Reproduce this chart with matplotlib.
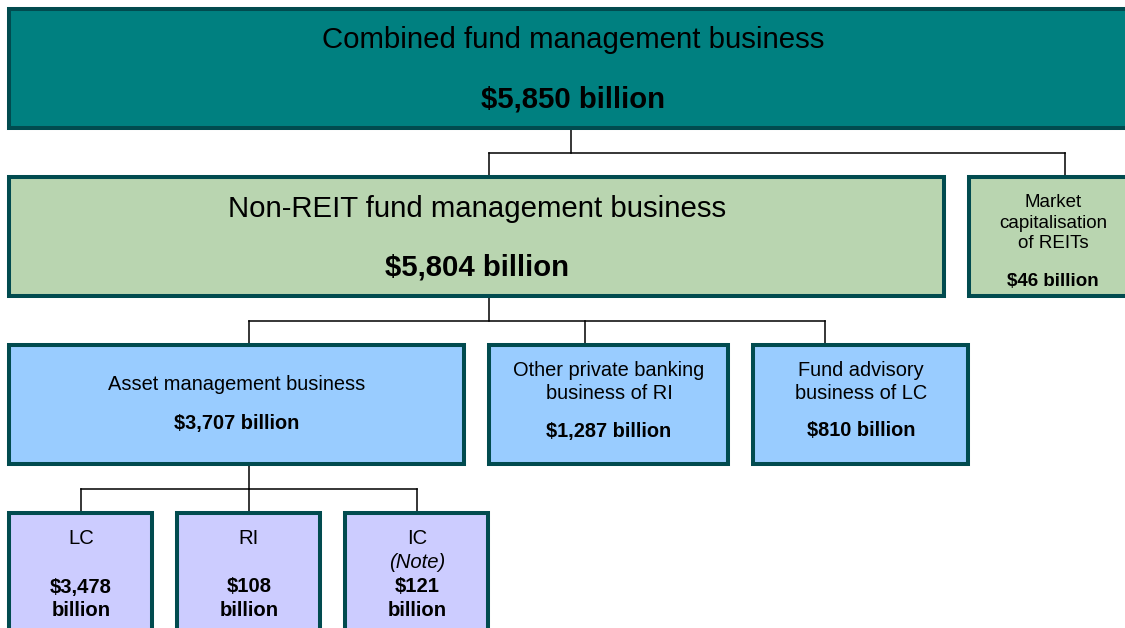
#!/usr/bin/env python3
"""Org-style breakdown of the fund management business."""

import matplotlib.pyplot as plt
from matplotlib.patches import Rectangle

plt.rcParams["font.family"] = ["Liberation Sans", "DejaVu Sans"]

# data
labels = [
    "Combined fund management business",
    "Non-REIT fund management business",
    "Market\ncapitalisation\nof REITs",
    "Asset management business",
    "Other private banking\nbusiness of RI",
    "Fund advisory\nbusiness of LC",
    "LC",
    "RI",
    "IC",
]
amounts = [5850, 5804, 46, 3707, 1287, 810, 3478, 108, 121]
notes = ["", "", "", "", "", "", "", "", "(Note)"]
# parent index of each box (-1 = root)
parents = [-1, 0, 0, 1, 1, 1, 3, 3, 3]

# layout in pixels: x0, y0, x1, y1 (centre of border line)
boxes = [
    (9, 9, 1140, 128),
    (9, 177, 944, 296),
    (969, 177, 1140, 296),
    (9, 345, 464, 464),
    (489, 345, 728, 464),
    (753, 345, 968, 464),
    (9, 513, 152, 640),
    (177, 513, 320, 640),
    (345, 513, 488, 640),
]
fills = ["#008080", "#B9D5B0", "#B9D5B0", "#99CCFF", "#99CCFF", "#99CCFF",
         "#CCCCFF", "#CCCCFF", "#CCCCFF"]
border = "#014B4F"

fig = plt.figure(figsize=(11.25, 6.28), dpi=100)
ax = fig.add_axes([0, 0, 1, 1])
ax.set_xlim(0, 1125)
ax.set_ylim(628, 0)
ax.axis("off")

# connectors: stem from parent, bar, drops to children
conn_x = {0: 571, 1: 489, 3: 249}
drop_x = {1: 489, 2: 1065, 3: 249, 4: 585, 5: 825, 6: 81, 7: 249, 8: 417}
for p in sorted(set(q for q in parents if q >= 0)):
    kids = [i for i, q in enumerate(parents) if q == p]
    y_bot = boxes[p][3] + 2
    y_top = boxes[kids[0]][1] - 2
    y_mid = (y_bot + y_top) / 2
    ax.plot([conn_x[p], conn_x[p]], [y_bot, y_mid], color="black", lw=1.1)
    xs = [drop_x[k] for k in kids]
    ax.plot([min(xs), max(xs)], [y_mid, y_mid], color="black", lw=1.1)
    for x in xs:
        ax.plot([x, x], [y_mid, y_top], color="black", lw=1.1)

for i, (x0, y0, x1, y1) in enumerate(boxes):
    ax.add_patch(Rectangle((x0, y0), x1 - x0, y1 - y0, facecolor=fills[i],
                           edgecolor=border, lw=2.9, zorder=2))

amt = [f"${a:,} billion" for a in amounts]
dy = 2  # va="center" sits slightly high

# big boxes
for i, cx, (ty, ay) in zip([0, 1], [573, 477], [(38, 97), (207, 265)]):
    ax.text(cx, ty + dy, labels[i], ha="center", va="center", fontsize=21.2,
            zorder=3)
    ax.text(cx, ay + dy, amt[i], ha="center", va="center", fontsize=21.2,
            fontweight="bold", zorder=3)

# REIT box
ax.text(1053, 221 + dy, labels[2], ha="center", va="center", fontsize=13.5,
        linespacing=1.3, zorder=3)
ax.text(1053, 279 + dy, amt[2], ha="center", va="center", fontsize=13.5,
        fontweight="bold", zorder=3)

# second level
ax.text(237, 383 + dy, labels[3], ha="center", va="center", fontsize=14.4,
        zorder=3)
ax.text(237, 422 + dy, amt[3], ha="center", va="center", fontsize=14.4,
        fontweight="bold", zorder=3)
for i, cx in zip([4, 5], [609, 861]):
    ax.text(cx, 380 + dy, labels[i], ha="center", va="center", fontsize=14.4,
            linespacing=1.25, zorder=3)
    ax.text(cx, 429 + dy, amt[i], ha="center", va="center", fontsize=14.4,
            fontweight="bold", zorder=3)

# bottom level
for i, cx in zip([6, 7, 8], [81, 249, 417]):
    ax.text(cx, 537 + dy, labels[i], ha="center", va="center", fontsize=14.6,
            zorder=3)
    if notes[i]:
        ax.text(cx, 561 + dy, notes[i], ha="center", va="center", fontsize=14.6,
                style="italic", zorder=3)
    ax.text(cx, 585 + dy, f"${amounts[i]:,}", ha="center", va="center",
            fontsize=14.6, fontweight="bold", zorder=3)
    ax.text(cx, 608 + dy, "billion", ha="center", va="center", fontsize=14.6,
            fontweight="bold", zorder=3)

fig.savefig("out.png", dpi=100)
